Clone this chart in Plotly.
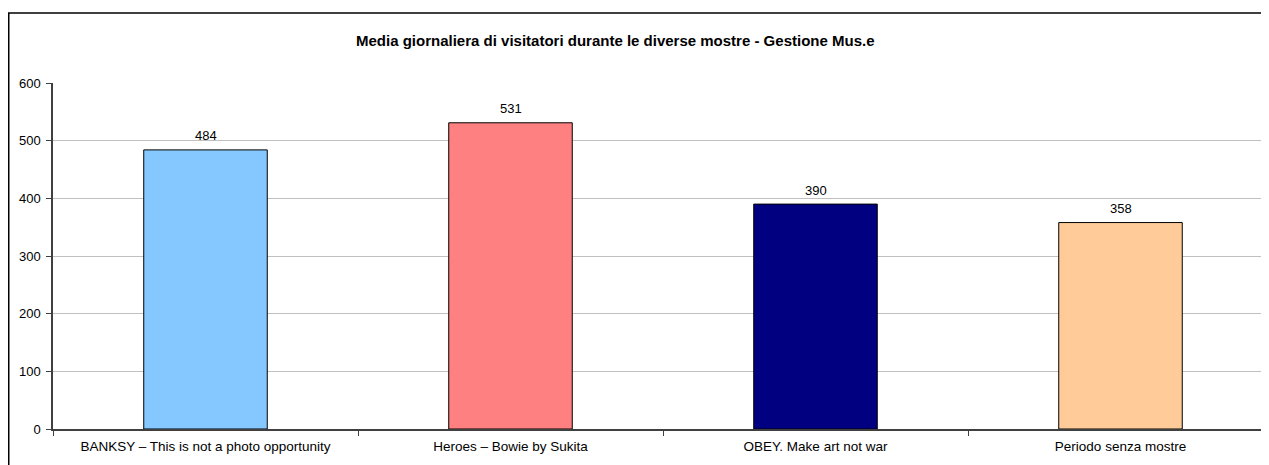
import plotly.graph_objects as go

categories = ["BANKSY \u2013 This is not a photo opportunity", "Heroes \u2013 Bowie by Sukita",
              "OBEY. Make art not war", "Periodo senza mostre"]
values = [484, 531, 390, 358]
bar_colors = ["#84C8FF", "#FF8080", "#000080", "#FFCC99"]
y_ticks = [0, 100, 200, 300, 400, 500, 600]
title_text = "Media giornaliera di visitatori durante le diverse mostre - Gestione Mus.e"

# page has an 8px body margin; figure sized to fill the window from that offset
W, H = 1261, 457
ml, mt, mb = 45, 75, 36
PW = W - ml
PH = H - mt - mb
CAT_PX = 305
FONT = "Liberation Sans, Arial"

fig = go.Figure(go.Bar(
    x=categories, y=values,
    marker=dict(color=bar_colors, line=dict(color="#000000", width=1)),
    width=0.405,
    hoverinfo="x+y",
))

annotations = [dict(x=c, y=v, xref="x", yref="y", text=str(v), showarrow=False,
                    yanchor="middle", xanchor="center", yshift=14,
                    font=dict(family=FONT, size=13, color="#000000"))
               for c, v in zip(categories, values)]
annotations.append(dict(text="<b>" + title_text + "</b>", xref="paper", yref="paper",
                        x=(607 - ml) / PW, y=1 + (mt - 32) / PH,
                        xanchor="center", yanchor="middle", showarrow=False,
                        font=dict(family=FONT, size=15, color="#000000")))

fig.update_layout(
    width=W, height=H,
    margin=dict(l=ml, r=0, t=mt, b=mb, pad=0),
    paper_bgcolor="white", plot_bgcolor="white",
    showlegend=False,
    font=dict(family=FONT, size=13, color="#000000"),
    xaxis=dict(type="category", range=[-0.5, -0.5 + PW / CAT_PX], tickson="boundaries",
               ticks="outside", ticklen=5, tickcolor="#404040", showgrid=False,
               showline=True, linecolor="#404040", linewidth=1.5,
               ticklabelstandoff=4,
               tickfont=dict(family=FONT, size=13.5, color="#000000")),
    yaxis=dict(range=[0, 600], tickvals=y_ticks, ticks="outside", ticklen=5,
               tickcolor="#404040", showgrid=True, gridcolor="#C0C0C0", gridwidth=1,
               showline=True, linecolor="#404040", linewidth=1.5, zeroline=False,
               ticklabelstandoff=3,
               tickfont=dict(family=FONT, size=13, color="#000000")),
    annotations=annotations,
    shapes=[
        dict(type="line", xref="paper", yref="paper",
             x0=(0 - ml) / PW, x1=1.0,
             y0=1 + (mt - 5) / PH, y1=1 + (mt - 5) / PH,
             line=dict(color="#000000", width=1.5)),
        dict(type="line", xref="paper", yref="paper",
             x0=(0.75 - ml) / PW, x1=(0.75 - ml) / PW,
             y0=1 + (mt - 5) / PH, y1=-mb / PH,
             line=dict(color="#000000", width=1.5)),
    ],
)

fig.write_html("out.html", config={"displayModeBar": False})
